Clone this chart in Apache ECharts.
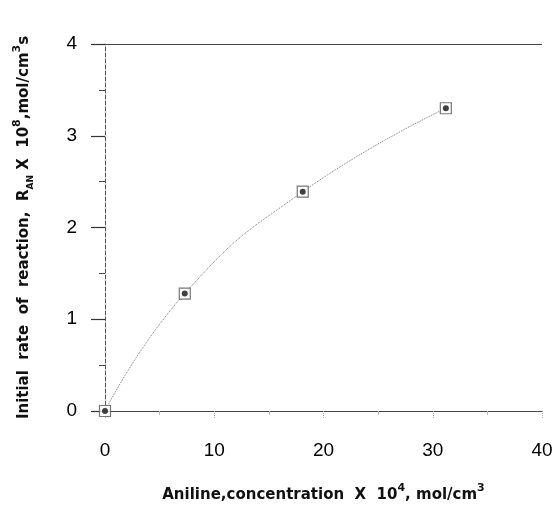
<!DOCTYPE html>
<html lang="en">
<head>
  <meta charset="UTF-8">
  <title>Initial rate vs aniline concentration</title>
  <style>
    html, body { margin: 0; padding: 0; background: #fff; }
    #main { width: 553px; height: 506px; }
  </style>
</head>
<body>
  <div id="main"></div>
  <script src="https://cdn.jsdelivr.net/npm/echarts@6/dist/echarts.min.js"></script>
  <script type="text/javascript">
    // aniline concentration x 10^4 (mol/cm3) and initial rate x 10^8
    var concentration = [0, 7.3, 18.1, 31.2];
    var rate = [0, 1.28, 2.39, 3.30];
    var xTicks = [0, 10, 20, 30, 40];
    var yTicks = [0, 1, 2, 3, 4];

    var points = concentration.map(function (c, i) { return [c, rate[i]]; });

    var myChart = echarts.init(document.getElementById('main'));

    var nameFont = 'DejaVu Sans';

    var option = {
      animation: false,
      grid: { left: 105, right: 11, top: 44, bottom: 95, containLabel: false, outerBoundsMode: 'none' },
      xAxis: {
        type: 'value',
        min: xTicks[0],
        max: xTicks[xTicks.length - 1],
        interval: 10,
        name: 'Aniline,concentration  X  10{sup|4}, mol/cm{sup|3}',
        nameLocation: 'middle',
        nameGap: 72,
        nameTextStyle: {
          fontFamily: nameFont,
          fontWeight: 'bold',
          fontSize: 15,
          color: '#111',
          rich: {
            sup: { fontSize: 11, fontWeight: 'bold', fontFamily: nameFont, padding: [0, 0, 14, 0] }
          }
        },
        axisLine: { show: true, lineStyle: { color: '#444', width: 1.2 } },
        axisTick: { show: true, inside: false, length: 7, lineStyle: { color: '#aaa', type: 'dotted' } },
        minorTick: { show: true, splitNumber: 2, length: 4, lineStyle: { color: '#bbb' } },
        splitLine: { show: false },
        axisLabel: {
          margin: 30,
          fontFamily: 'Liberation Sans Narrow, Liberation Sans',
          fontSize: 19,
          color: '#000'
        }
      },
      yAxis: {
        type: 'value',
        min: yTicks[0],
        max: yTicks[yTicks.length - 1],
        interval: 1,
        name: 'Initial  rate  of  reaction,  R{sub|AN} X  10{sup|8},mol/cm{sup|3}s',
        nameLocation: 'middle',
        nameGap: 68,
        nameTextStyle: {
          fontFamily: nameFont,
          fontWeight: 'bold',
          fontSize: 15,
          color: '#111',
          rich: {
            sup: { fontSize: 11, fontWeight: 'bold', fontFamily: nameFont, padding: [0, 0, 14, 0] },
            sub: { fontSize: 9, fontWeight: 'bold', fontFamily: nameFont, padding: [12, 0, 0, 0] }
          }
        },
        axisLine: { show: true, lineStyle: { color: '#555', width: 1, type: 'dashed' } },
        axisTick: { show: true, inside: false, length: 14, lineStyle: { color: '#333', width: 1.2 } },
        minorTick: { show: true, splitNumber: 2, length: 6, lineStyle: { color: '#444' } },
        splitLine: {
          show: true,
          lineStyle: { color: ['#444', 'transparent', 'transparent', 'transparent', '#444'], width: 1.2 }
        },
        axisLabel: {
          margin: 28,
          fontFamily: 'Liberation Sans Narrow, Liberation Sans',
          fontSize: 19,
          color: '#000'
        }
      },
      series: [
        {
          name: 'curve',
          type: 'line',
          data: points,
          smooth: 0.5,
          showSymbol: false,
          lineStyle: { color: '#777', width: 1, type: 'dotted' },
          z: 2
        },
        {
          name: 'box',
          type: 'scatter',
          data: points,
          symbol: 'rect',
          symbolSize: 11,
          itemStyle: { color: '#fff', borderColor: '#555', borderWidth: 1.2 },
          z: 3
        },
        {
          name: 'dot',
          type: 'scatter',
          data: points,
          symbol: 'circle',
          symbolSize: 6,
          itemStyle: { color: '#111' },
          z: 4
        }
      ]
    };

    myChart.setOption(option);
  </script>
</body>
</html>
